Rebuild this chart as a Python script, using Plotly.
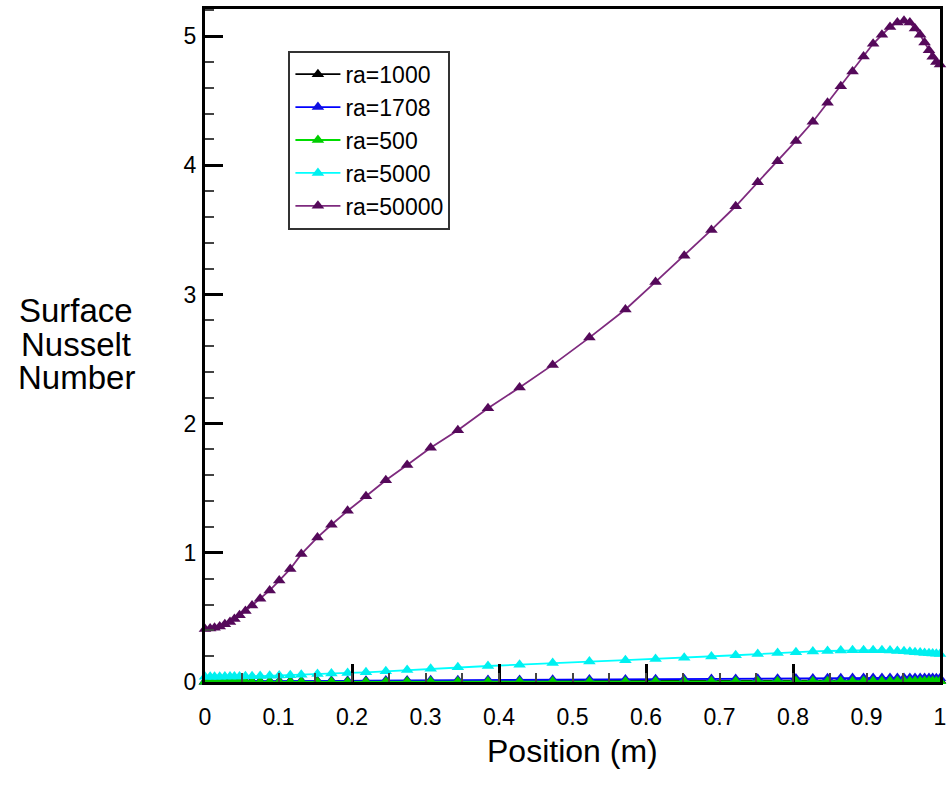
import plotly.graph_objects as go

# Shared mesh positions along the wall (m)
position = [0, 0.007, 0.013, 0.02, 0.027, 0.034, 0.04, 0.047, 0.055, 0.064,
            0.075, 0.088, 0.101, 0.116, 0.131, 0.153, 0.172, 0.194, 0.219, 0.246,
            0.275, 0.307, 0.344, 0.385, 0.428, 0.473, 0.523, 0.572, 0.613, 0.652,
            0.689, 0.722, 0.752, 0.779, 0.804, 0.827, 0.847, 0.865, 0.881, 0.896,
            0.909, 0.921, 0.932, 0.942, 0.951, 0.959, 0.966, 0.973, 0.979, 0.985,
            0.990, 0.995, 1.0]

nu_ra50000 = [0.41, 0.414, 0.42, 0.43, 0.447, 0.465, 0.488, 0.516, 0.549, 0.593,
              0.645, 0.709, 0.785, 0.875, 0.99, 1.119, 1.217, 1.325, 1.438, 1.562,
              1.68, 1.813, 1.949, 2.12, 2.28, 2.455, 2.666, 2.884, 3.097, 3.30,
              3.50, 3.683, 3.868, 4.032, 4.189, 4.337, 4.484, 4.612, 4.727, 4.843,
              4.941, 5.01, 5.07, 5.105, 5.12, 5.105, 5.06, 5.01, 4.95, 4.89,
              4.84, 4.80, 4.78]

nu_ra5000 = [0.040, 0.040, 0.041, 0.041, 0.042, 0.042, 0.043, 0.043, 0.044, 0.045,
             0.046, 0.048, 0.050, 0.053, 0.056, 0.061, 0.065, 0.070, 0.075, 0.083,
             0.092, 0.103, 0.115, 0.124, 0.134, 0.147, 0.158, 0.169, 0.178, 0.188,
             0.198, 0.207, 0.216, 0.225, 0.231, 0.237, 0.240, 0.243, 0.245, 0.246,
             0.246, 0.245, 0.243, 0.240, 0.238, 0.235, 0.231, 0.228, 0.225, 0.222,
             0.220, 0.218, 0.216]

nu_ra1708 = [0.004, 0.004, 0.004, 0.004, 0.005, 0.005, 0.005, 0.005, 0.005, 0.006,
             0.006, 0.006, 0.007, 0.007, 0.008, 0.008, 0.009, 0.009, 0.010, 0.011,
             0.012, 0.013, 0.014, 0.015, 0.016, 0.017, 0.019, 0.020, 0.021, 0.022,
             0.023, 0.024, 0.025, 0.026, 0.027, 0.028, 0.029, 0.029, 0.030, 0.030,
             0.031, 0.031, 0.031, 0.031, 0.031, 0.031, 0.031, 0.030, 0.030, 0.030,
             0.030, 0.029, 0.029]

nu_ra1000 = [0.002, 0.002, 0.002, 0.002, 0.002, 0.002, 0.002, 0.002, 0.003, 0.003,
             0.003, 0.003, 0.003, 0.003, 0.004, 0.004, 0.004, 0.004, 0.005, 0.005,
             0.005, 0.006, 0.006, 0.007, 0.007, 0.008, 0.008, 0.009, 0.009, 0.010,
             0.010, 0.011, 0.011, 0.011, 0.012, 0.012, 0.012, 0.013, 0.013, 0.013,
             0.013, 0.013, 0.013, 0.013, 0.013, 0.013, 0.013, 0.013, 0.013, 0.013,
             0.013, 0.012, 0.012]

nu_ra500 = [0.001, 0.001, 0.001, 0.001, 0.001, 0.001, 0.001, 0.001, 0.001, 0.001,
            0.001, 0.001, 0.002, 0.002, 0.002, 0.002, 0.002, 0.002, 0.002, 0.002,
            0.003, 0.003, 0.003, 0.003, 0.004, 0.004, 0.004, 0.004, 0.005, 0.005,
            0.005, 0.005, 0.006, 0.006, 0.006, 0.006, 0.006, 0.006, 0.006, 0.007,
            0.007, 0.007, 0.007, 0.007, 0.007, 0.007, 0.007, 0.007, 0.007, 0.007,
            0.007, 0.006, 0.006]

series_names = ["ra=1000", "ra=1708", "ra=500", "ra=5000", "ra=50000"]
series_values = [nu_ra1000, nu_ra1708, nu_ra500, nu_ra5000, nu_ra50000]
line_colors = ["#000000", "#0000FF", "#00DD00", "#00FFFF", "#7E2A7E"]
marker_colors = ["#000000", "#1010E0", "#00CC00", "#00F0F0", "#55095A"]

x_ticks = [0, 0.1, 0.2, 0.3, 0.4, 0.5, 0.6, 0.7, 0.8, 0.9, 1]
x_tick_labels = ["0", "0.1", "0.2", "0.3", "0.4", "0.5", "0.6", "0.7", "0.8", "0.9", "1"]
y_ticks = [0, 1, 2, 3, 4, 5]
y_title_lines = ["Surface", "Nusselt", "Number"]

FONT = "Liberation Sans, Arial, sans-serif"

fig = go.Figure()
for name, vals, lc, mc in zip(series_names, series_values, line_colors, marker_colors):
    fig.add_trace(go.Scatter(
        x=position, y=vals, name=name, mode="lines+markers",
        line=dict(color=lc, width=1.8),
        marker=dict(symbol="triangle-up", size=11, color=mc, line=dict(width=0)),
        cliponaxis=False,
    ))

# helper axes carrying the visible inside tick marks on x
fig.add_trace(go.Scatter(x=[0, 1], y=[0, 0], xaxis="x2", mode="markers",
                         marker=dict(opacity=0), showlegend=False, hoverinfo="skip"))
fig.add_trace(go.Scatter(x=[0, 1], y=[0, 0], xaxis="x3", mode="markers",
                         marker=dict(opacity=0), showlegend=False, hoverinfo="skip"))

annotations = []
for i, txt in enumerate(y_title_lines):
    annotations.append(dict(
        text=txt, xref="paper", yref="paper",
        x=-0.175, y=(682 - (309 + 33.5 * i)) / 676,
        xanchor="center", yanchor="middle", showarrow=False,
        font=dict(size=33, family=FONT, color="black")))
annotations.append(dict(
    text="Position (m)", xref="paper", yref="paper",
    x=0.5, y=(682 - 751) / 676, xanchor="center", yanchor="middle", showarrow=False,
    font=dict(size=32, family=FONT, color="black")))

fig.update_layout(
    width=952, height=796,
    margin=dict(l=205, r=7, t=6, b=114),
    paper_bgcolor="white", plot_bgcolor="white",
    font=dict(family=FONT, color="black"),
    showlegend=True,
    legend=dict(
        x=0.1135, y=0.938, xanchor="left", yanchor="top",
        bgcolor="white", bordercolor="#333333", borderwidth=2,
        font=dict(size=23, family=FONT, color="black"),
        itemwidth=45, tracegroupgap=0,
    ),
    xaxis=dict(
        range=[0, 1], tickmode="array", tickvals=x_ticks, ticktext=x_tick_labels,
        ticks="outside", ticklen=12, tickwidth=1, tickcolor="rgba(0,0,0,0)",
        showline=True, linecolor="black", linewidth=3, mirror=True,
        showgrid=False, zeroline=False,
        tickfont=dict(size=23, family=FONT, color="black"),
    ),
    xaxis2=dict(
        range=[0, 1], overlaying="x", matches="x", side="bottom", anchor="y",
        dtick=0.2, tick0=0, ticks="inside", ticklen=18, tickwidth=3, tickcolor="black",
        showticklabels=False, showgrid=False, zeroline=False, showline=False,
    ),
    xaxis3=dict(
        range=[0, 1], overlaying="x", matches="x", side="bottom", anchor="y",
        dtick=0.05, tick0=0, ticks="inside", ticklen=9, tickwidth=2, tickcolor="#444444",
        showticklabels=False, showgrid=False, zeroline=False, showline=False,
    ),
    yaxis=dict(
        range=[0, 5.21], tickmode="array", tickvals=y_ticks,
        ticks="inside", ticklen=18, tickwidth=3, tickcolor="black",
        minor=dict(ticks="inside", dtick=0.2, tick0=0, ticklen=9, tickwidth=2, tickcolor="#444444"),
        showline=True, linecolor="black", linewidth=3, mirror=True,
        showgrid=False, zeroline=False,
        tickfont=dict(size=23, family=FONT, color="black"),
        ticklabelstandoff=1,
    ),
    annotations=annotations,
)

fig.write_html("out.html", config={"displayModeBar": False},
               post_script="document.body.style.margin='0';document.body.style.overflow='hidden';")
